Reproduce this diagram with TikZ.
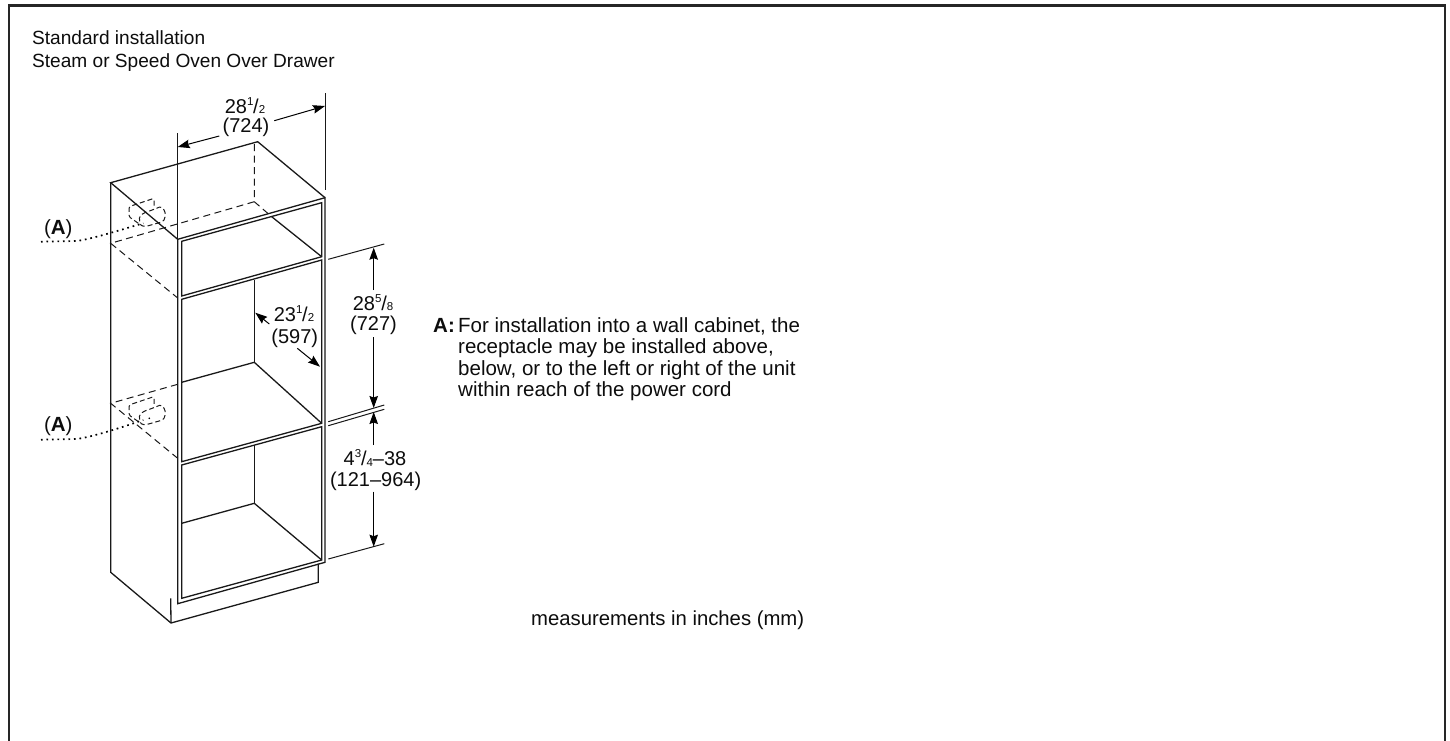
\documentclass[tikz,border=0pt]{standalone}
\usepackage{fontspec}
\setmainfont{Liberation Sans}
\usetikzlibrary{arrows.meta}
\newcommand{\frc}[2]{\raisebox{0.4em}{\fontsize{11.5pt}{11.5pt}\selectfont #1}\kern-0.01em/\raisebox{-0.02em}{\fontsize{11.5pt}{11.5pt}\selectfont #2}}
\tikzset{
  x=1pt,y=-1pt,
  frame/.style={line width=2.6pt,color=black!85},
  solidline/.style={line width=1.3pt,color=black!90,line join=miter},
  hidden/.style={line width=1pt,color=black!90,dash pattern=on 7pt off 4.5pt},
  recept/.style={line width=1pt,color=black!90,dash pattern=on 5pt off 3pt,rounded corners=1.5pt},
  extline/.style={line width=1pt,color=black!90},
  dimarrow/.style={line width=1pt,color=black,-{Stealth[length=12pt,width=8.5pt,inset=1.5pt]}},
  leader/.style={line width=1.7pt,color=black,dash pattern=on 1.7pt off 3.8pt},
  txt/.style={inner sep=0pt,anchor=base,font=\fontsize{20pt}{22pt}\selectfont,color=black!95},
  head/.style={inner sep=0pt,anchor=base west,font=\fontsize{19.1pt}{22pt}\selectfont,color=black!95},
  txtl/.style={txt,anchor=base west,font=\fontsize{20.5pt}{22pt}\selectfont},
  mlabel/.style={txtl,font=\fontsize{20.3pt}{22pt}\selectfont}
}
\begin{document}
\begin{tikzpicture}
\useasboundingbox (0,0) rectangle (1450,741);
\fill[white] (0,0) rectangle (1450,741);
\draw[frame] (9,741) -- (9,5.5) -- (1445,5.5) -- (1445,741);

% named corners of the cabinet
\coordinate (tbl) at (110.7,182.7);
\coordinate (tb) at (257.7,141.7);
\coordinate (tr) at (325,197.7);
\coordinate (tf) at (177.7,239.3);
\coordinate (bl) at (110.7,572.3);
\coordinate (bf) at (171,623);
\coordinate (toeR) at (318.3,582.3);
\coordinate (toeT) at (318.3,563.5);
\coordinate (frb) at (325,562.3);
\coordinate (flb) at (177.7,603.7);

% hidden edges
\draw[hidden] (254.3,144) -- (254.3,201.7) -- (271.7,216.7);
\draw[hidden] (254.3,201.7) -- (110.7,243.3) -- (177.7,298);
\draw[hidden] (177.7,384.3) -- (110.7,403.3) -- (177.7,458.3);

% receptacles
\foreach \dy in {0,198.3}{
  \begin{scope}[yshift=-\dy pt]
    \draw[recept] (138.3,223.3) -- (129,216.7) -- (129,206.7) -- (154,198.3) -- (154,207);
    \draw[recept] (154,209.3) -- (143.3,213.3) -- (139.3,216.7) -- (140,225) -- (145,226.7) -- (162.7,221.7) -- (165,218.5) -- (165,211) -- (161,206.5) -- (154,209.3);
  \end{scope}
}

% outer cabinet
\draw[solidline] (tf) -- (tbl) -- (tb) -- (tr);
\draw[solidline] (tbl) -- (bl) -- (bf) -- (toeR) -- (toeT);
\draw[solidline] (170.7,598.3) -- (bf);
\draw[solidline] (tf) -- (tr) -- (frb) -- (flb) -- cycle;

% openings
\draw[solidline] (181.7,241.3) -- (321.7,202.7) -- (321.7,256.7) -- (181.7,296) -- cycle;
\draw[solidline] (181.7,299.3) -- (321.7,260) -- (321.7,423.3) -- (181.7,461.7) -- cycle;
\draw[solidline] (181.7,465) -- (321.7,426.7) -- (321.7,560) -- (181.7,598.3) -- cycle;

% interior edges
\draw[solidline] (271.7,216.7) -- (321.7,256.7);
\draw[solidline] (254.3,280) -- (254.3,362.3);
\draw[solidline] (181.7,382.3) -- (254.3,362.3) -- (321.7,423.3);
\draw[solidline] (254.3,445) -- (254.3,503.3);
\draw[solidline] (181.7,523.3) -- (254.3,503.3) -- (321.7,560);

% extension lines
\draw[extline] (177.7,133.3) -- (tf);
\draw[extline] (325,93.3) -- (325,190);
\draw[extline] (328.3,259.3) -- (384.3,244);
\draw[extline] (328.3,421.7) -- (384.3,405);
\draw[extline] (328.3,425.7) -- (384.3,409.3);
\draw[extline] (328.3,559) -- (384.3,543.7);

% labels
\node[txt] (w1) at (245,113.3) {28\frc{1}{2}};
\node[txt] (w2) at (246,132.7) {(724)};
\node[txt] (d1) at (294,321) {23\frc{1}{2}};
\node[txt] (d2) at (294.7,343.3) {(597)};
\node[txt] (h1) at (373,310) {28\frc{5}{8}};
\node[txt] (h2) at (373.5,330.7) {(727)};
\node[txt] (g1) at (375,465.7) {4\frc{3}{4}--38};
\node[txt] (g2) at (375.6,486) {(121--964)};
\node[txt,font=\fontsize{20.5pt}{22pt}\selectfont] (a1) at (58.3,234) {(\textbf{A})};
\node[txt,font=\fontsize{20.5pt}{22pt}\selectfont] (a2) at (58.3,431) {(\textbf{A})};
\node[head] (t1) at (32,45) {Standard installation};
\node[head] (t2) at (32,67.7) {Steam or Speed Oven Over Drawer};
\node[txtl] (n0) at (433,332.5) {\textbf{A:}};
\node[txtl] (n1) at (458,332.5) {For installation into a wall cabinet, the};
\node[txtl] (n2) at (458,353.8) {receptacle may be installed above,};
\node[txtl] (n3) at (458,375.1) {below, or to the left or right of the unit};
\node[txtl] (n4) at (458,396.4) {within reach of the power cord};
\node[mlabel] (m) at (531,625.5) {measurements in inches (mm)};

% dimension arrows
\coordinate (wa) at (219.3,136); \coordinate (wat) at (177.7,147);
\coordinate (wb) at (274.3,120.7); \coordinate (wbt) at (325,106);
\draw[dimarrow] (wa) -- (wat);
\draw[dimarrow] (wb) -- (wbt);
\coordinate (da) at (269.3,324); \coordinate (dat) at (255.3,312.7);
\coordinate (db) at (297.3,348.3); \coordinate (dbt) at (320,366.7);
\draw[dimarrow] (da) -- (dat);
\draw[dimarrow] (db) -- (dbt);
\coordinate (ha) at (373.7,290); \coordinate (hat) at (373.7,247.7);
\coordinate (hb) at (373.7,337.3); \coordinate (hbt) at (373.7,408);
\coordinate (ga) at (373.7,445); \coordinate (gat) at (373.7,412);
\coordinate (gb) at (373.7,491.7); \coordinate (gbt) at (373.7,546.7);
\draw[dimarrow] (ha) -- (hat);
\draw[dimarrow] (hb) -- (hbt);
\draw[dimarrow] (ga) -- (gat);
\draw[dimarrow] (gb) -- (gbt);

% leaders
\coordinate (l1) at (41,241.7); \coordinate (l1e) at (143.3,223.3);
\coordinate (l2) at (41,439.7); \coordinate (l2e) at (143.3,420);
\draw[leader] (l1) -- (76.7,241) .. controls (92,239) and (120,230) .. (l1e);
\draw[leader] (l2) -- (76.7,439) .. controls (92,437) and (120,428) .. (l2e);
\fill (149.3,418.3) circle (0.9);
\end{tikzpicture}
\end{document}
